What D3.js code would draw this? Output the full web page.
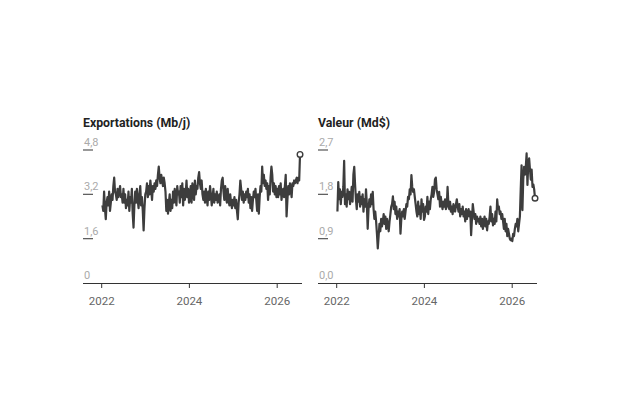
<html>
<head>
<meta charset="utf-8">
<script src="https://d3js.org/d3.v7.min.js"></script>
<style>
  body { margin: 0; background: #fff; }
  text { font-family: Roboto, "Liberation Sans", sans-serif; }
  .title { font-weight: bold; font-size: 12.3px; fill: #222; }
  .ylab { font-size: 11px; fill: #aaa; }
  .xlab { font-size: 11.5px; fill: #666; }
</style>
</head>
<body>
<svg width="624" height="416"></svg>
<script>
// weekly series, first week ending 2022-01-07
var startDate = new Date(2022, 0, 7);

var exportations = [
  2.8, 2.6, 3.3, 2.7, 2.3, 2.9, 3.1, 2.8, 3.3, 2.6, 2.9, 3.2, 3.0,
  3.5, 3.8, 3.3, 3.2, 3.0, 3.4, 3.1, 3.3, 3.5, 3.1, 3.2, 2.9, 3.4,
  2.9, 3.2, 2.7, 3.0, 2.8, 3.3, 2.6, 3.1, 2.9, 3.4, 2.5, 2.0, 2.8,
  3.3, 2.9, 3.4, 3.0, 2.7, 3.2, 3.5, 2.8, 3.1, 2.6, 1.9, 2.7, 3.2,
  3.3, 3.6, 3.1, 3.5, 3.2, 3.7, 3.4, 3.0, 3.5, 3.3, 3.6, 3.4, 3.7,
  3.5, 3.9, 4.2, 3.8, 3.6, 3.9, 3.7, 3.5, 3.8, 3.6, 3.3, 2.6, 3.0,
  2.5, 2.9, 3.2, 2.6, 3.0, 2.7, 3.3, 2.9, 3.4, 3.1, 2.8, 3.5, 3.2,
  3.3, 2.9, 3.5, 3.1, 3.6, 2.8, 3.4, 3.0, 3.2, 3.7, 3.1, 3.4, 2.9,
  3.1, 3.5, 2.9, 3.6, 3.3, 3.0, 3.7, 3.2, 3.5, 3.4, 3.8, 4.0, 3.6,
  3.4, 3.7, 3.2, 3.0, 3.3, 2.9, 3.4, 3.1, 2.8, 3.3, 3.0, 3.5, 3.2,
  2.8, 3.1, 3.4, 2.9, 3.2, 3.0, 3.3, 2.9, 3.0, 3.2, 2.8, 3.4, 3.7,
  3.8, 3.3, 3.0, 3.5, 3.1, 2.9, 3.4, 3.0, 2.8, 3.2, 2.9, 2.7, 3.0,
  2.8, 3.1, 2.7, 3.0, 2.6, 2.3, 2.9, 3.2, 3.7, 3.4, 3.0, 3.3, 2.9,
  3.2, 3.0, 3.3, 3.1, 3.4, 2.9, 3.2, 2.7, 3.1, 2.6, 3.0, 3.3, 3.1,
  3.4, 3.0, 2.6, 3.2, 2.5, 3.1, 3.5, 3.3, 4.2, 3.6, 3.9, 3.5, 3.7,
  3.4, 3.6, 3.0, 3.5, 3.2, 3.8, 4.2, 3.9, 3.3, 3.6, 3.2, 3.5, 3.1,
  3.4, 3.1, 3.5, 3.2, 3.6, 3.0, 3.3, 3.4, 3.1, 3.5, 3.9, 2.4, 3.0,
  3.5, 3.2, 3.6, 3.4, 3.1, 3.6, 3.5, 3.7, 3.6, 3.7, 3.8, 3.6, 3.8, 3.7, 4.64
];

var valeur = [
  1.45, 2.05, 1.7, 1.9, 1.6, 1.85, 1.75, 1.95, 2.48, 1.6, 1.8, 1.55, 1.9,
  1.7, 1.85, 1.6, 1.75, 1.95, 1.65, 2.2, 2.36, 2.0, 1.7, 1.5, 1.8, 1.65,
  1.85, 1.55, 1.75, 1.6, 1.8, 1.45, 1.7, 1.55, 1.9, 1.6, 1.1, 1.5, 1.7,
  1.55, 1.8, 1.6, 1.85, 1.5, 1.3, 1.45, 1.25, 1.0, 0.70, 0.95, 1.2, 1.05,
  1.3, 1.15, 1.25, 1.4, 1.2, 1.35, 1.1, 1.3, 1.2, 1.05, 1.25, 1.4, 1.55,
  1.6, 1.76, 1.5, 1.65, 1.4, 1.55, 1.3, 1.45, 1.35, 1.5, 1.0, 1.3, 1.45,
  1.35, 1.5, 1.3, 1.45, 1.6, 1.55, 1.75, 1.7, 1.9, 1.8, 2.19, 1.95, 1.85,
  1.9, 1.75, 1.6, 1.45, 1.35, 1.65, 1.4, 1.55, 1.3, 1.7, 1.45, 1.6, 1.28,
  1.35, 1.55, 1.45, 1.75, 1.4, 1.65, 1.5, 1.7, 1.8, 1.95, 1.75, 1.85, 2.1,
  2.14, 1.9, 1.8, 1.7, 1.85, 1.55, 1.75, 1.6, 1.5, 1.65, 1.55, 1.7, 1.5,
  1.55, 1.95, 1.6, 1.5, 1.65, 1.45, 1.55, 1.4, 1.6, 1.5, 1.45, 1.6, 1.7,
  1.55, 1.45, 1.6, 1.35, 1.5, 1.4, 1.55, 1.35, 1.45, 1.25, 1.5, 1.3, 1.4,
  1.5, 1.35, 1.45, 0.97, 1.3, 1.6, 1.45, 1.3, 1.4, 1.2, 1.35, 1.25, 1.3,
  1.2, 1.35, 1.15, 1.3, 1.1, 1.25, 1.35, 1.15, 1.3, 1.07, 1.25, 1.2, 1.35,
  1.55, 1.25, 1.4, 1.17, 1.3, 1.2, 1.45, 1.25, 1.7, 1.5, 1.55, 1.4, 1.45,
  1.3, 1.4, 1.25, 1.1, 1.3, 1.05, 1.2, 0.95, 1.1, 1.0, 0.9, 0.87, 0.9,
  0.85, 1.0, 0.95, 1.1, 1.2, 1.15, 1.3, 1.05, 1.2, 1.35, 1.9, 2.39, 1.48,
  2.1, 2.36, 2.2, 2.35, 2.63, 1.99, 2.45, 2.53, 2.3, 2.1, 2.3, 1.95, 2.0, 1.9, 1.72
];

var titles = ["Exportations (Mb/j)", "Valeur (Md$)"];
var yMax = [4.8, 2.7];
var yTicks = [[0, 1.6, 3.2, 4.8], [0, 0.9, 1.8, 2.7]];
var yTickLabels = [["0", "1,6", "3,2", "4,8"], ["0,0", "0,9", "1,8", "2,7"]];
var xTicks = [new Date(2022, 0, 1), new Date(2024, 0, 1), new Date(2026, 0, 1)];
var xTickLabels = ["2022", "2024", "2026"];

var series = [exportations, valeur];

var svg = d3.select("svg");
svg.append("rect").attr("width", 624).attr("height", 416).attr("fill", "#fff");

var panelLeft = 83, panelStep = 235, panelWidth = 219;
var plotTop = 150, plotBottom = 283;

series.forEach(function(vals, k) {
  var ox = panelLeft + k * panelStep;
  var g = svg.append("g").attr("transform", "translate(" + ox + ",0)");

  var data = vals.map(function(v, i) { return [d3.timeWeek.offset(startDate, i), v]; });

  var x = d3.scaleTime()
    .domain([new Date(2022, 0, 1), new Date(2026, 6, 4)])
    .range([18.7, 216.3]);
  var y = d3.scaleLinear().domain([0, yMax[k]]).range([plotBottom, plotTop]);

  g.append("text").attr("class", "title")
    .attr("x", 0).attr("y", 127).text(titles[k]);

  // y tick labels with short underline
  yTicks[k].forEach(function(t, j) {
    g.append("text").attr("class", "ylab")
      .attr("x", 1).attr("y", y(t) - 4).text(yTickLabels[k][j]);
    if (t > 0) {
      g.append("line")
        .attr("x1", 0).attr("x2", 10)
        .attr("y1", y(t)).attr("y2", y(t))
        .attr("stroke", "#555").attr("stroke-width", 1.2);
    }
  });

  // x axis
  g.append("line")
    .attr("x1", 0).attr("x2", panelWidth)
    .attr("y1", plotBottom + 0.5).attr("y2", plotBottom + 0.5)
    .attr("stroke", "#333").attr("stroke-width", 1);

  xTicks.forEach(function(t, j) {
    g.append("line")
      .attr("x1", x(t)).attr("x2", x(t))
      .attr("y1", plotBottom).attr("y2", plotBottom + 5)
      .attr("stroke", "#333").attr("stroke-width", 1);
    g.append("text").attr("class", "xlab")
      .attr("x", x(t)).attr("y", 305)
      .attr("text-anchor", "middle").text(xTickLabels[j]);
  });

  var line = d3.line()
    .x(function(d) { return x(d[0]); })
    .y(function(d) { return y(d[1]); });

  g.append("path").datum(data)
    .attr("d", line)
    .attr("fill", "none")
    .attr("stroke", "#3d3d3d")
    .attr("stroke-width", 2.2)
    .attr("stroke-linejoin", "round");

  var last = data[data.length - 1];
  g.append("circle")
    .attr("cx", x(last[0])).attr("cy", y(last[1]))
    .attr("r", 2.8)
    .attr("fill", "#fff")
    .attr("stroke", "#3d3d3d")
    .attr("stroke-width", 1.4);
});
</script>
</body>
</html>
